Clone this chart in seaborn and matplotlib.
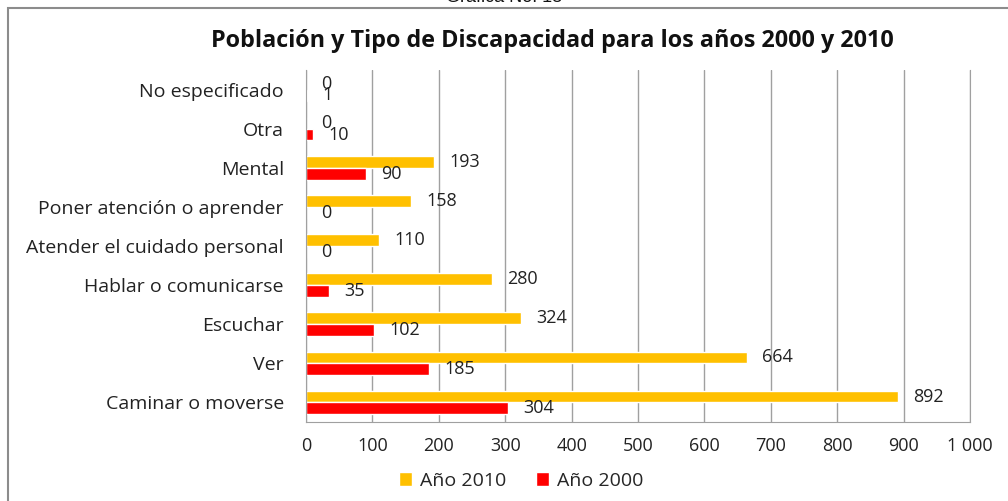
import pandas as pd
import matplotlib.pyplot as plt
import seaborn as sns
from matplotlib.patches import Rectangle, Patch

categorias = ["No especificado", "Otra", "Mental", "Poner atención o aprender",
              "Atender el cuidado personal", "Hablar o comunicarse", "Escuchar",
              "Ver", "Caminar o moverse"]
anio_2010 = [0, 0, 193, 158, 110, 280, 324, 664, 892]
anio_2000 = [1, 10, 90, 0, 0, 35, 102, 185, 304]
series = ["Año 2010", "Año 2000"]
colores = ["#FFC000", "#FF0000"]
ticks_x = list(range(0, 1001, 100))
ticks_x_labels = ["0", "100", "200", "300", "400", "500", "600", "700", "800", "900", "1 000"]

df = pd.DataFrame({
    "tipo": categorias * 2,
    "valor": anio_2010 + anio_2000,
    "serie": [series[0]] * len(categorias) + [series[1]] * len(categorias),
})

sns.set_style("white")
plt.rcParams["font.family"] = ["Open Sans", "DejaVu Sans"]

fig = plt.figure(figsize=(10.08, 5.01), dpi=100)
ax = fig.add_axes([0.3036, 0.1577, 0.6587, 0.7026])

sns.barplot(data=df, y="tipo", x="valor", hue="serie", order=categorias,
            hue_order=series, palette=colores, orient="h", width=0.6,
            saturation=1, ax=ax, legend=False)

for cont in ax.containers:
    ax.bar_label(cont, padding=11, fontsize=13, color="#222222")

ax.set_xlim(0, 1000)
ax.set_xticks(ticks_x)
ax.set_xticklabels(ticks_x_labels, fontsize=13, color="#222222")
ax.tick_params(axis="x", pad=11, length=0)
ax.tick_params(axis="y", pad=16, length=0, labelsize=14, labelcolor="#222222")
ax.set_xlabel("")
ax.set_ylabel("")
ax.xaxis.grid(True, color="#A0A0A0", linewidth=1)
ax.set_axisbelow(True)
for s in ["left", "bottom", "right"]:
    ax.spines[s].set_color("#A0A0A0")
ax.spines["top"].set_visible(False)

fig.text(0.548, 0.918, "Población y Tipo de Discapacidad para los años 2000 y 2010",
         ha="center", va="center", fontsize=16.8, fontweight="bold", color="#111111")

fig.text(0.50, 1.004, "Gráfica No. 13", ha="center", va="center",
         fontsize=13, family="Liberation Sans", color="#111111")

# marco del gráfico
fig.patches.append(Rectangle((8 / 1008, -0.05), 1.2, 1.05 - 8 / 501,
                             transform=fig.transFigure, fill=False,
                             edgecolor="#8C8C8C", linewidth=1.5))

handles = [Patch(facecolor=c, label=s) for c, s in zip(colores, series)]
fig.legend(handles=handles, loc="center", bbox_to_anchor=(0.517, 0.04), ncol=2,
           frameon=False, fontsize=14, handlelength=0.7, handleheight=0.7,
           columnspacing=1.5, handletextpad=0.4)

fig.savefig("out.png", dpi=100)
